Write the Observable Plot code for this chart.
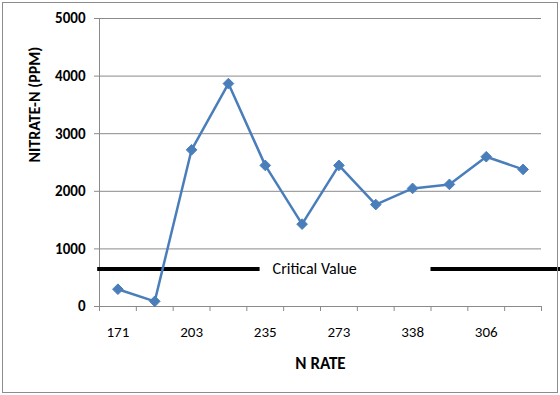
<!DOCTYPE html>
<html>
<head>
<meta charset="utf-8">
<script src="https://cdn.jsdelivr.net/npm/d3@7"></script>
<script src="https://cdn.jsdelivr.net/npm/@observablehq/plot@0.6"></script>
<style>
  body { margin: 0; background: #fff; }
  #chart svg { display: block; outline: 1px solid #8c8c8c; outline-offset: -3px; }
</style>
</head>
<body>
<div id="chart"></div>
<script>
// Category tick labels (only every other label is shown in the original)
const labels = ["171", "", "203", "", "235", "", "273", "", "338", "", "306", ""];
// Nitrate-N (PPM) values per category
const nitrate = [300, 90, 2720, 3870, 2450, 1430, 2450, 1770, 2050, 2120, 2600, 2380];
// Critical value
const criticalValue = 650;
const criticalLabel = "Critical Value";
const yTicks = [0, 1000, 2000, 3000, 4000, 5000];

const data = nitrate.map((v, i) => ({i, v}));
const n = labels.length;
const boundaries = d3.range(n + 1).map(i => i - 0.5);
const labelPositions = d3.range(n).filter(i => labels[i] !== "");

const font = "Carlito, 'Open Sans', 'Liberation Sans', sans-serif";

const chart = Plot.plot({
  width: 560,
  height: 395,
  marginLeft: 99,
  marginRight: 19,
  marginTop: 18,
  marginBottom: 89,
  style: { fontFamily: font, fontSize: "15px", color: "#000", background: "#fff", overflow: "visible" },
  x: { type: "linear", domain: [-0.5, n - 0.5] },
  y: { domain: [0, 5000] },
  marks: [
    Plot.gridY(yTicks, { stroke: "#8a8a8a", strokeOpacity: 1, strokeWidth: 1 }),
    Plot.ruleX([-0.5], { stroke: "#8a8a8a" }),
    Plot.ruleY([0], { stroke: "#8a8a8a" }),
    Plot.axisY(yTicks, {
      tickSize: 5, tickPadding: 9, stroke: "#8a8a8a",
      fontWeight: "bold", fontSize: 15, label: null, tickFormat: d3.format("d")
    }),
    Plot.axisX(boundaries, {
      tickSize: 5, stroke: "#8a8a8a", tickFormat: () => "", label: null
    }),
    Plot.axisX(labelPositions, {
      tickSize: 0, tickPadding: 20, fontSize: 15,
      tickFormat: i => labels[i], label: null
    }),
    Plot.text(["NITRATE-N (PPM)"], {
      frameAnchor: "left", dx: -65, rotate: -90, fontWeight: "bold", fontSize: 16
    }),
    Plot.text(["N RATE"], {
      frameAnchor: "bottom", dy: 62, fontWeight: "bold", fontSize: 17
    }),
    // critical value line, broken around its label
    Plot.ruleY([criticalValue], { x1: -0.55, x2: 3.86, stroke: "#000", strokeWidth: 4, clip: false }),
    Plot.ruleY([criticalValue], { x1: 8.5, x2: 12.05, stroke: "#000", strokeWidth: 4, clip: false }),
    Plot.text([criticalLabel], {
      x: 4.2, y: criticalValue, text: d => d, textAnchor: "start", fontSize: 16
    }),
    Plot.line(data, { x: "i", y: "v", stroke: "#4a7ebb", strokeWidth: 2.5 }),
    Plot.dot(data, { x: "i", y: "v", symbol: "diamond2", r: 4.8, fill: "#4a7ebb", stroke: "#4a7ebb", strokeWidth: 1 })
  ]
});
document.getElementById("chart").appendChild(chart);
</script>
</body>
</html>
